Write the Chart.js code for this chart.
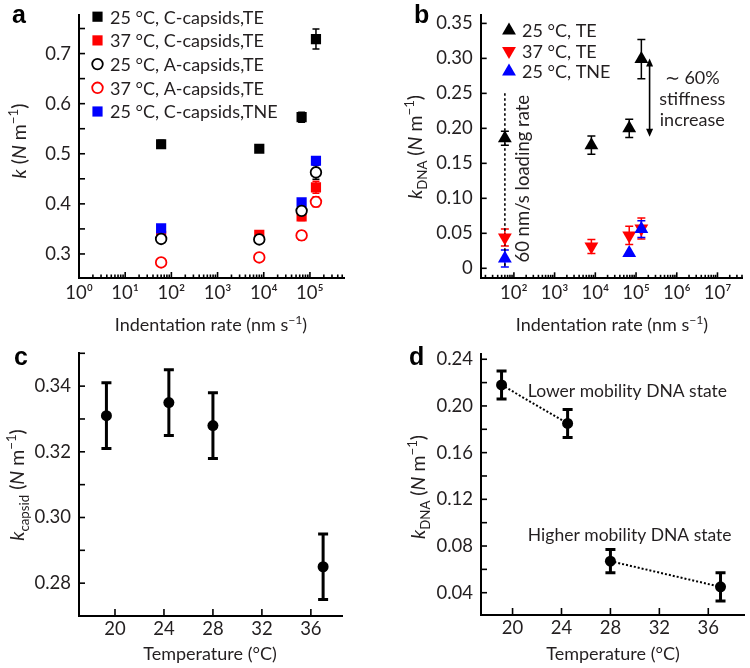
<!DOCTYPE html>
<html><head><meta charset="utf-8">
<script src="https://cdn.jsdelivr.net/npm/chart.js@4.4.0/dist/chart.umd.min.js"></script>
<style>
html,body{margin:0;padding:0;background:#fff;}
#wrap{position:relative;width:750px;height:668px;overflow:hidden;}
canvas{position:absolute;left:0;top:0;}
</style></head><body>
<div id="wrap">
<canvas id="ca" width="750" height="668"></canvas>
<canvas id="cb" width="750" height="668"></canvas>
<canvas id="cc" width="750" height="668"></canvas>
<canvas id="cd" width="750" height="668"></canvas>
</div>
<script>
// ---------------- data ----------------
// Panel a: spring constant vs indentation rate
const rateA = [60, 8000, 66000, 135000];
const kC25TE  = [0.519, 0.510, 0.573, 0.729];
const eC25TE  = [0.008, 0.006, 0.010, 0.020];
const kC37TE  = [0.336, 0.338, 0.375, 0.433];
const eC37TE  = [0.006, 0.006, 0.008, 0.012];
const kA25TE  = [0.330, 0.329, 0.386, 0.463];
const eA25TE  = [0.006, 0.006, 0.008, 0.014];
const kA37TE  = [0.283, 0.293, 0.337, 0.404];
const eA37TE  = [0.005, 0.005, 0.009, 0.010];
const kC25TNE = [0.351, null, 0.403, 0.486];
const eC25TNE = [0.006, null, 0.008, 0.008];
const legendA = ['25 °C, C-capsids,TE', '37 °C, C-capsids,TE', '25 °C, A-capsids,TE', '37 °C, A-capsids,TE', '25 °C, C-capsids,TNE'];
const yTicksA = [0.30, 0.35, 0.40, 0.45, 0.50, 0.55, 0.60, 0.65, 0.70, 0.75];
const yLabelsA = [0.3, 0.4, 0.5, 0.6, 0.7];
const xDecadesA = [0, 1, 2, 3, 4, 5];

// Panel b: k_DNA vs indentation rate
const rateB = [60, 8000, 68000, 135000];
const kD25TE  = [0.186, 0.176, 0.200, 0.299];
const eD25TE  = [0.010, 0.013, 0.013, 0.028];
const kD37TE  = [0.044, 0.031, 0.047, 0.057];
const eD37TE  = [0.012, 0.010, 0.013, 0.015];
const kD25TNE = [0.014, null, 0.022, 0.056];
const eD25TNE = [0.012, null, 0.012, 0.020];
const legendB = ['25 °C, TE', '37 °C, TE', '25 °C, TNE'];
const yTicksB = [0, 0.05, 0.10, 0.15, 0.20, 0.25, 0.30, 0.35];
const xDecadesB = [2, 3, 4, 5, 6, 7];

// Panel c: k_capsid vs temperature
const tempC = [19.3, 24.4, 28.0, 37.0];
const kCapsid = [0.331, 0.335, 0.328, 0.285];
const eCapsid = [0.010, 0.010, 0.010, 0.010];
const yTicksC = [0.28, 0.29, 0.30, 0.31, 0.32, 0.33, 0.34, 0.35];
const yLabelsC = [0.28, 0.30, 0.32, 0.34];
const xTicksCD = [20, 24, 28, 32, 36];

// Panel d: k_DNA vs temperature (two states)
const tempLow = [19.1, 24.5];
const kLow = [0.218, 0.185];
const eLow = [0.012, 0.012];
const tempHigh = [28.0, 37.0];
const kHigh = [0.067, 0.045];
const eHigh = [0.010, 0.012];
const yTicksD = [0.04, 0.06, 0.08, 0.10, 0.12, 0.14, 0.16, 0.18, 0.20, 0.22, 0.24];
const yLabelsD = [0.04, 0.08, 0.12, 0.16, 0.20, 0.24];

// ---------------- helpers ----------------
const FONT = 'Lato, "Open Sans", sans-serif';
const TXT = '#231f20';
const RED = '#ff0000', BLUE = '#0000ff', BLACK = '#000000';
const SUP = {'0':'⁰','1':'¹','2':'²','3':'³','4':'⁴','5':'⁵','6':'⁶','7':'⁷','8':'⁸','9':'⁹'};
const pow10Label = e => '10' + String(e).split('').map(c => SUP[c]).join('');
const near = (a, b) => Math.abs(a - b) < 1e-9;
function logTicks(min, max) {
  const t = [];
  for (let e = Math.floor(Math.log10(min)); e <= Math.ceil(Math.log10(max)); e++)
    for (let m = 1; m < 10; m++) { const v = m * Math.pow(10, e); if (v >= min * 0.999 && v <= max * 1.001) t.push(v); }
  return t;
}
const pts = (xs, ys) => xs.map((x, i) => ys[i] == null ? null : {x, y: ys[i]}).filter(p => p);

function drawRich(ctx, segs, cx, cy, size) {
  ctx.save();
  ctx.fillStyle = TXT; ctx.textBaseline = 'alphabetic'; ctx.textAlign = 'left';
  const parts = segs.map(s => {
    const sz = (s.sub || s.sup) ? size * 0.68 : size;
    const font = (s.it ? 'italic ' : '') + sz + 'px ' + FONT;
    ctx.font = font;
    return {s, font, w: ctx.measureText(s.t).width};
  });
  const total = parts.reduce((a, p) => a + p.w, 0);
  let x = cx - total / 2;
  const base = cy + size * 0.36;
  parts.forEach(p => {
    ctx.font = p.font;
    let y = base;
    if (p.s.sub) y += size * 0.28;
    if (p.s.sup) y -= size * 0.42;
    ctx.fillText(p.s.t, x, y);
    x += p.w;
  });
  ctx.restore();
}
function drawRichRot(ctx, segs, cx, cy, size) {
  ctx.save(); ctx.translate(cx, cy); ctx.rotate(-Math.PI / 2);
  drawRich(ctx, segs, 0, 0, size); ctx.restore();
}

function makeChart(id, spec) {
  const A = spec.area, yW = 60, xH = 45;
  const tickPlugin = {
    id: 'decor_' + id,
    beforeDatasetsDraw(chart) {
      const ctx = chart.ctx, xs = chart.scales.x, ys = chart.scales.y;
      ctx.save();
      chart.data.datasets.forEach((ds, di) => {
        if (!ds.errors) return;
        ctx.strokeStyle = ds.errColor; ctx.lineWidth = spec.errLw;
        ds.data.forEach((p, i) => {
          const e = ds.errors[i]; if (e == null) return;
          const px = xs.getPixelForValue(p.x), y1 = ys.getPixelForValue(p.y - e), y2 = ys.getPixelForValue(p.y + e);
          ctx.beginPath();
          ctx.moveTo(px, y1); ctx.lineTo(px, y2);
          ctx.moveTo(px - spec.cap, y1); ctx.lineTo(px + spec.cap, y1);
          ctx.moveTo(px - spec.cap, y2); ctx.lineTo(px + spec.cap, y2);
          ctx.stroke();
        });
      });
      ctx.restore();
      if (spec.under) spec.under(chart);
    },
    afterDraw(chart) {
      const ctx = chart.ctx, a = chart.chartArea, xs = chart.scales.x, ys = chart.scales.y;
      ctx.save(); ctx.strokeStyle = '#000'; ctx.lineWidth = 1.6;
      xs.ticks.forEach(t => {
        const p = xs.getPixelForValue(t.value), len = spec.xTickLen(t.value);
        ctx.beginPath(); ctx.moveTo(p, a.bottom); ctx.lineTo(p, a.bottom - len); ctx.stroke();
      });
      ys.ticks.forEach(t => {
        const p = ys.getPixelForValue(t.value);
        ctx.beginPath(); ctx.moveTo(a.left, p); ctx.lineTo(a.left + spec.yTickLen, p); ctx.stroke();
      });
      ctx.restore();
      // titles
      drawRichRot(ctx, spec.yTitle.segs, spec.yTitle.x, spec.yTitle.y, 19.5);
      drawRich(ctx, spec.xTitle.segs, spec.xTitle.x, spec.xTitle.y, 18);
      // panel letter
      ctx.save(); ctx.fillStyle = '#000'; ctx.font = 'bold 25px "Liberation Sans", Arial, sans-serif';
      ctx.textBaseline = 'alphabetic'; ctx.fillText(spec.letter.t, spec.letter.x, spec.letter.y); ctx.restore();
      // legend
      if (spec.legend) {
        const L = spec.legend;
        chart.data.datasets.forEach((ds, i) => {
          if (!ds.label) return;
          const k = L.order.indexOf(i); if (k < 0) return;
          const y = L.y + k * L.dy;
          ctx.save();
          ctx.fillStyle = ds.backgroundColor; ctx.strokeStyle = ds.borderColor;
          ctx.lineWidth = ds.borderWidth;
          Chart.helpers.drawPoint(ctx, {pointStyle: ds.pointStyle, rotation: ds.rotation || 0, radius: ds.pointRadius, borderWidth: ds.borderWidth}, L.mx, y);
          ctx.fillStyle = TXT; ctx.font = L.size + 'px ' + FONT; ctx.textBaseline = 'middle';
          ctx.fillText(ds.label, L.tx, y + 1);
          ctx.restore();
        });
      }
      if (spec.over) spec.over(chart);
    }
  };
  const scaleBase = {
    grid: {display: false, drawTicks: false},
    border: {display: true, width: 2, color: '#000'},
  };
  return new Chart(document.getElementById(id), {
    type: 'scatter',
    data: {datasets: spec.datasets},
    options: {
      responsive: false, animation: false, events: [],
      layout: {padding: {left: A.L - yW, right: 750 - A.R, top: A.T, bottom: 668 - A.B - xH}},
      plugins: {legend: {display: false}, tooltip: {enabled: false}},
      scales: {
        x: Object.assign({}, scaleBase, {
          type: spec.xType, min: spec.xMin, max: spec.xMax, position: 'bottom',
          afterBuildTicks: s => { s.ticks = spec.xTicks.map(v => ({value: v})); },
          afterFit: s => { s.height = xH; s.paddingLeft = 0; s.paddingRight = 0; },
          ticks: {autoSkip: false, maxRotation: 0, minRotation: 0, padding: spec.xPad, color: TXT,
                  font: {family: FONT, size: 18.5}, callback: spec.xLabel}
        }),
        y: Object.assign({}, scaleBase, {
          type: 'linear', min: spec.yMin, max: spec.yMax, position: 'left',
          afterBuildTicks: s => { s.ticks = spec.yTicks.map(v => ({value: v})); },
          afterFit: s => { s.width = yW; s.paddingTop = 0; s.paddingBottom = 0; },
          ticks: {autoSkip: false, padding: 8, color: TXT, font: {family: FONT, size: 18.5}, callback: spec.yLabel}
        })
      }
    },
    plugins: [tickPlugin]
  });
}

const kUnit = [{t: ' ('}, {t: 'N', it: true}, {t: ' m'}, {t: '−1', sup: true}, {t: ')'}];

// ---------------- Panel a ----------------
const xMinA = 1, xMaxA = 5.6e5;
makeChart('ca', {
  area: {L: 79, R: 344.5, T: 15, B: 278},
  xType: 'logarithmic', xMin: xMinA, xMax: xMaxA, xTicks: logTicks(xMinA, xMaxA),
  xLabel: v => { const e = Math.round(Math.log10(v)); return near(Math.pow(10, e), v) && xDecadesA.includes(e) ? pow10Label(e) : ''; },
  xTickLen: v => near(Math.pow(10, Math.round(Math.log10(v))), v) ? 6 : 3.5,
  xPad: 4,
  yMin: 0.252, yMax: 0.777, yTicks: yTicksA,
  yLabel: v => yLabelsA.some(l => near(l, v)) ? v.toFixed(1) : '',
  yTickLen: 6,
  errLw: 1.5, cap: 3.5,
  yTitle: {x: 19, y: 141, segs: [{t: 'k', it: true}].concat(kUnit)},
  xTitle: {x: 211, y: 325, segs: [{t: 'Indentation rate (nm s'}, {t: '−1', sup: true}, {t: ')'}]},
  letter: {t: 'a', x: 12, y: 23},
  legend: {mx: 97.5, tx: 110, y: 16.7, dy: 23.7, size: 18, order: [0, 1, 2, 3, 4]},
  datasets: [
    {label: legendA[0], data: pts(rateA, kC25TE), errors: eC25TE, errColor: BLACK, pointStyle: 'rect', pointRadius: 7.2, backgroundColor: BLACK, borderColor: BLACK, borderWidth: 0, order: 5},
    {label: legendA[1], data: pts(rateA, kC37TE), errors: eC37TE, errColor: RED, pointStyle: 'rect', pointRadius: 7.2, backgroundColor: RED, borderColor: RED, borderWidth: 0, order: 4},
    {label: legendA[2], data: pts(rateA, kA25TE), errors: eA25TE, errColor: BLACK, pointStyle: 'circle', pointRadius: 5.3, backgroundColor: '#fff', borderColor: BLACK, borderWidth: 1.8, order: 1},
    {label: legendA[3], data: pts(rateA, kA37TE), errors: eA37TE, errColor: RED, pointStyle: 'circle', pointRadius: 5.3, backgroundColor: '#fff', borderColor: RED, borderWidth: 1.8, order: 2},
    {label: legendA[4], data: pts(rateA, kC25TNE), errors: eC25TNE, errColor: BLUE, pointStyle: 'rect', pointRadius: 7.2, backgroundColor: BLUE, borderColor: BLUE, borderWidth: 0, order: 3}
  ]
});

// ---------------- Panel b ----------------
const xMinB = 15.3, xMaxB = 4.0e7;
const loadingRate = 60, arrowX = 2.15e5;
makeChart('cb', {
  area: {L: 480.7, R: 743.3, T: 15, B: 278.3},
  xType: 'logarithmic', xMin: xMinB, xMax: xMaxB, xTicks: logTicks(xMinB, xMaxB),
  xLabel: v => { const e = Math.round(Math.log10(v)); return near(Math.pow(10, e), v) && xDecadesB.includes(e) ? pow10Label(e) : ''; },
  xTickLen: v => near(Math.pow(10, Math.round(Math.log10(v))), v) ? 6 : 3.5,
  xPad: 4,
  yMin: -0.0143, yMax: 0.362, yTicks: yTicksB,
  yLabel: v => near(v, 0) ? '0' : v.toFixed(2),
  yTickLen: 6,
  errLw: 1.5, cap: 4,
  yTitle: {x: 415, y: 147, segs: [{t: 'k', it: true}, {t: 'DNA', sub: true}].concat(kUnit)},
  xTitle: {x: 612, y: 325, segs: [{t: 'Indentation rate (nm s'}, {t: '−1', sup: true}, {t: ')'}]},
  letter: {t: 'b', x: 414, y: 23},
  legend: {mx: 509, tx: 522, y: 30.5, dy: 20.5, size: 18, order: [0, 1, 2]},
  under: chart => {
    const ctx = chart.ctx, xs = chart.scales.x, ys = chart.scales.y;
    const px = xs.getPixelForValue(loadingRate);
    ctx.save(); ctx.strokeStyle = '#000'; ctx.lineWidth = 1.6; ctx.setLineDash([2.5, 2.5]);
    ctx.beginPath(); ctx.moveTo(px, ys.getPixelForValue(0.25)); ctx.lineTo(px, ys.getPixelForValue(0.0)); ctx.stroke();
    ctx.restore();
  },
  over: chart => {
    const ctx = chart.ctx, xs = chart.scales.x, ys = chart.scales.y;
    ctx.save(); ctx.fillStyle = TXT; ctx.font = '18.5px ' + FONT; ctx.textAlign = 'center'; ctx.textBaseline = 'middle';
    // rotated annotation
    ctx.save(); ctx.translate(xs.getPixelForValue(170), ys.getPixelForValue(0.128)); ctx.rotate(-Math.PI / 2);
    ctx.fillText('60 nm/s loading rate', 0, 0); ctx.restore();
    const tx = xs.getPixelForValue(2.4e6);
    ctx.font = '18px ' + FONT;
    ctx.fillText('∼ 60%', tx, ys.getPixelForValue(0.272));
    ctx.fillText('stiffness', tx, ys.getPixelForValue(0.242));
    ctx.fillText('increase', tx, ys.getPixelForValue(0.212));
    // double arrow
    const ax = xs.getPixelForValue(arrowX), y1 = ys.getPixelForValue(0.300), y2 = ys.getPixelForValue(0.188);
    ctx.strokeStyle = '#000'; ctx.fillStyle = '#000'; ctx.lineWidth = 1.6;
    ctx.beginPath(); ctx.moveTo(ax, y1 + 5); ctx.lineTo(ax, y2 - 5); ctx.stroke();
    ctx.beginPath(); ctx.moveTo(ax, y1); ctx.lineTo(ax - 3.5, y1 + 8); ctx.lineTo(ax + 3.5, y1 + 8); ctx.closePath(); ctx.fill();
    ctx.beginPath(); ctx.moveTo(ax, y2); ctx.lineTo(ax - 3.5, y2 - 8); ctx.lineTo(ax + 3.5, y2 - 8); ctx.closePath(); ctx.fill();
    ctx.restore();
  },
  datasets: [
    {label: legendB[0], data: pts(rateB, kD25TE), errors: eD25TE, errColor: BLACK, pointStyle: 'triangle', pointRadius: 8, backgroundColor: BLACK, borderColor: BLACK, borderWidth: 0, order: 3},
    {label: legendB[1], data: pts(rateB, kD37TE), errors: eD37TE, errColor: RED, pointStyle: 'triangle', rotation: 180, pointRadius: 8, backgroundColor: RED, borderColor: RED, borderWidth: 0, order: 2},
    {label: legendB[2], data: pts(rateB, kD25TNE), errors: eD25TNE, errColor: BLUE, pointStyle: 'triangle', pointRadius: 8, backgroundColor: BLUE, borderColor: BLUE, borderWidth: 0, order: 1}
  ]
});

// ---------------- Panel c ----------------
makeChart('cc', {
  area: {L: 79, R: 342.7, T: 353.3, B: 616},
  xType: 'linear', xMin: 17.06, xMax: 38.6, xTicks: xTicksCD,
  xLabel: v => String(v), xTickLen: () => 7, xPad: 2,
  yMin: 0.27, yMax: 0.35, yTicks: yTicksC,
  yLabel: v => yLabelsC.some(l => near(l, v)) ? v.toFixed(2) : '',
  yTickLen: 6,
  errLw: 3, cap: 5,
  yTitle: {x: 17, y: 485, segs: [{t: 'k', it: true}, {t: 'capsid', sub: true}].concat(kUnit)},
  xTitle: {x: 210, y: 654, segs: [{t: 'Temperature (°C)'}]},
  letter: {t: 'c', x: 14, y: 365},
  datasets: [
    {label: '', data: pts(tempC, kCapsid), errors: eCapsid, errColor: BLACK, pointStyle: 'circle', pointRadius: 5.5, backgroundColor: BLACK, borderColor: BLACK, borderWidth: 0}
  ]
});

// ---------------- Panel d ----------------
makeChart('cd', {
  area: {L: 481, R: 745.7, T: 354, B: 615},
  xType: 'linear', xMin: 17.42, xMax: 38.96, xTicks: xTicksCD,
  xLabel: v => String(v), xTickLen: () => 7, xPad: 2,
  yMin: 0.0209, yMax: 0.2445, yTicks: yTicksD,
  yLabel: v => yLabelsD.some(l => near(l, v)) ? v.toFixed(2) : '',
  yTickLen: 6,
  errLw: 3, cap: 5,
  yTitle: {x: 418, y: 487, segs: [{t: 'k', it: true}, {t: 'DNA', sub: true}].concat(kUnit)},
  xTitle: {x: 613, y: 654, segs: [{t: 'Temperature (°C)'}]},
  letter: {t: 'd', x: 409, y: 365},
  over: chart => {
    const ctx = chart.ctx, xs = chart.scales.x, ys = chart.scales.y;
    ctx.save(); ctx.fillStyle = TXT; ctx.font = '17.5px ' + FONT; ctx.textAlign = 'left'; ctx.textBaseline = 'middle';
    ctx.fillText('Lower mobility DNA state', xs.getPixelForValue(21.25), ys.getPixelForValue(0.2122));
    ctx.fillText('Higher mobility DNA state', xs.getPixelForValue(21.25), ys.getPixelForValue(0.0894));
    ctx.restore();
  },
  datasets: [
    {label: '', data: pts(tempLow, kLow), errors: eLow, errColor: BLACK, showLine: true, borderDash: [2, 2], borderWidth: 2, pointStyle: 'circle', pointRadius: 5.5, pointBorderWidth: 0, backgroundColor: BLACK, borderColor: BLACK},
    {label: '', data: pts(tempHigh, kHigh), errors: eHigh, errColor: BLACK, showLine: true, borderDash: [2, 2], borderWidth: 2, pointStyle: 'circle', pointRadius: 5.5, pointBorderWidth: 0, backgroundColor: BLACK, borderColor: BLACK}
  ]
});
</script>
</body></html>
